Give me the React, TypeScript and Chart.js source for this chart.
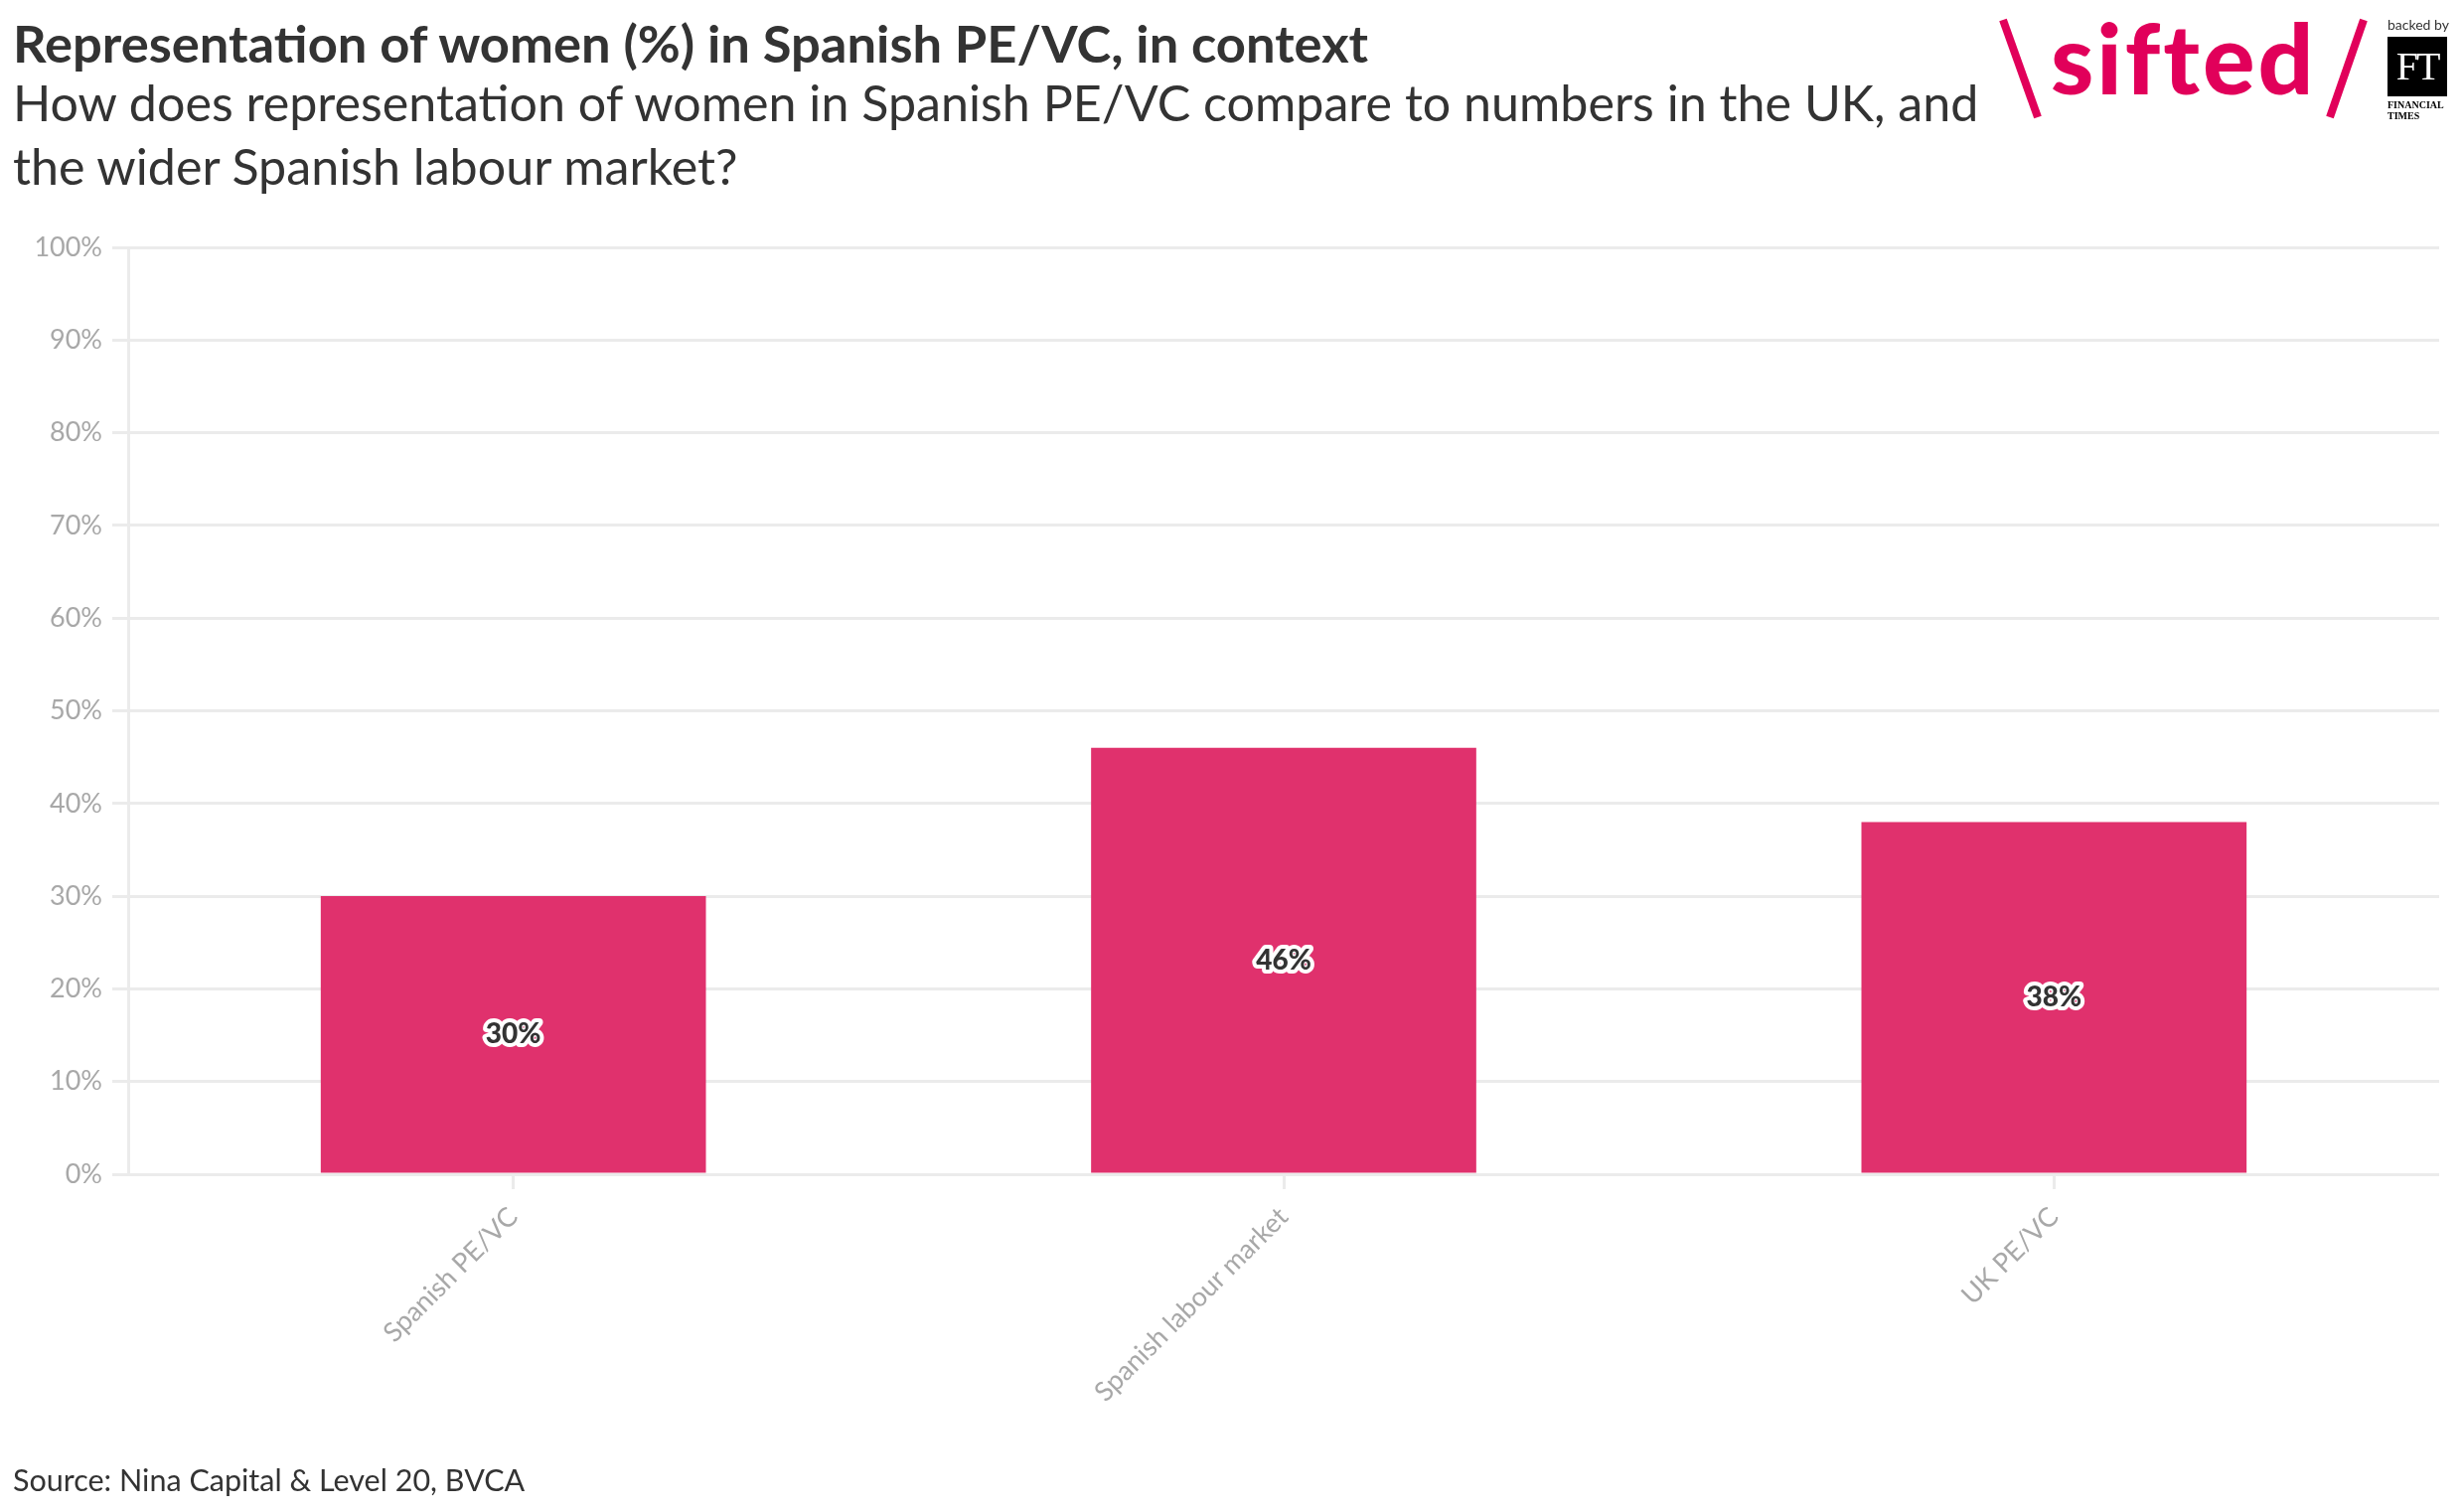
import React, { useEffect, useRef } from "react";
import { Chart, registerables } from "chart.js";

Chart.register(...registerables);

const categories = ["Spanish PE/VC", "Spanish labour market", "UK PE/VC"];
const womenShare = [30, 46, 38];
const yTickValues = [0, 10, 20, 30, 40, 50, 60, 70, 80, 90, 100];

const TITLE = "Representation of women (%) in Spanish PE/VC, in context";
const SUBTITLE_1 = "How does representation of women in Spanish PE/VC compare to numbers in the UK, and";
const SUBTITLE_2 = "the wider Spanish labour market?";
const SOURCE = "Source: Nina Capital & Level 20, BVCA";

const FONT = "Lato, 'Noto Sans', sans-serif";
const BAR_COLOR = "#e0316d";
const GRID = "#ebebeb";
const TICK_COLOR = "#a8a8a8";

const W = 2480;
const H = 1522;

const valueLabelPlugin = {
  id: "valueLabels",
  afterDatasetsDraw(chart: any) {
    const ctx = chart.ctx;
    const meta = chart.getDatasetMeta(0);
    ctx.save();
    ctx.font = `900 28px ${FONT}`;
    ctx.textAlign = "center";
    ctx.textBaseline = "middle";
    ctx.lineJoin = "round";
    meta.data.forEach((bar: any, i: number) => {
      const { x, y, base } = bar.getProps(["x", "y", "base"], true);
      const cy = (y + base) / 2;
      const txt = `${womenShare[i]}%`;
      ctx.lineWidth = 8;
      ctx.strokeStyle = "#ffffff";
      ctx.strokeText(txt, x, cy);
      ctx.fillStyle = "#333333";
      ctx.fillText(txt, x, cy);
    });
    ctx.restore();
  },
};

function BarChart() {
  const ref = useRef<HTMLCanvasElement | null>(null);
  useEffect(() => {
    if (!ref.current) return;
    const chart = new Chart(ref.current, {
      type: "bar",
      data: {
        labels: categories,
        datasets: [
          {
            data: womenShare,
            backgroundColor: BAR_COLOR,
            borderWidth: 0,
            barPercentage: 0.5,
            categoryPercentage: 1,
          },
        ],
      },
      options: {
        animation: false,
        responsive: false,
        devicePixelRatio: 1,
        layout: { padding: { top: 249, right: 25, left: 0, bottom: 0 } },
        plugins: { legend: { display: false }, tooltip: { enabled: false } },
        scales: {
          x: {
            grid: {
              display: true,
              drawOnChartArea: false,
              drawTicks: true,
              tickLength: 15,
              color: GRID,
              lineWidth: 3,
              offset: false,
            },
            border: { display: false },
            ticks: {
              minRotation: 45,
              maxRotation: 45,
              color: TICK_COLOR,
              font: { family: FONT, size: 27 },
              padding: 12,
            },
            afterFit(scale: any) {
              scale.height = H - 1182;
            },
          },
          y: {
            min: 0,
            max: 100,
            afterBuildTicks(scale: any) {
              scale.ticks = yTickValues.map((v) => ({ value: v }));
            },
            ticks: {
              color: TICK_COLOR,
              font: { family: FONT, size: 27 },
              padding: 10,
              callback: (v: any) => `${v}%`,
            },
            grid: {
              color: GRID,
              lineWidth: 3,
              tickLength: 16,
              drawTicks: true,
            },
            border: { display: true, color: GRID, width: 3 },
            afterFit(scale: any) {
              scale.width = 129;
            },
          },
        },
      },
      plugins: [valueLabelPlugin],
    });
    return () => chart.destroy();
  }, []);
  return (
    <canvas
      ref={ref}
      width={W}
      height={H}
      style={{ position: "absolute", left: 0, top: 0, width: W, height: H }}
    />
  );
}

function Logo() {
  const pink = "#e1005a";
  return (
    <div style={{ position: "absolute", left: 0, top: 0, width: W, height: 130 }}>
      <svg
        width={W}
        height={130}
        style={{ position: "absolute", left: 0, top: 0 }}
      >
        <line x1={2016} y1={20} x2={2051} y2={118} stroke={pink} strokeWidth={8} />
        <line x1={2379} y1={20} x2={2345} y2={118} stroke={pink} strokeWidth={8} />
      </svg>
      <div
        style={{
          position: "absolute",
          left: 2064,
          top: 8,
          fontFamily: FONT,
          fontWeight: 900,
          fontSize: 98,
          lineHeight: "98px",
          color: pink,
          letterSpacing: 3,
          whiteSpace: "nowrap",
        }}
      >
        sifted
      </div>
      <div
        style={{
          position: "absolute",
          left: 2403,
          top: 17,
          fontFamily: FONT,
          fontSize: 14,
          lineHeight: "16px",
          color: "#333",
          whiteSpace: "nowrap",
        }}
      >
        backed by
      </div>
      <div
        style={{
          position: "absolute",
          left: 2403,
          top: 37,
          width: 60,
          height: 60,
          background: "#000",
          color: "#fff",
          fontFamily: "'Liberation Serif', 'DejaVu Serif', serif",
          fontSize: 40,
          lineHeight: "60px",
          textAlign: "center",
          letterSpacing: -2,
        }}
      >
        FT
      </div>
      <div
        style={{
          position: "absolute",
          left: 2403,
          top: 100,
          fontFamily: "'Liberation Serif', serif",
          fontWeight: 700,
          fontSize: 10,
          lineHeight: "11px",
          color: "#000",
          whiteSpace: "nowrap",
        }}
      >
        FINANCIAL
        <br />
        TIMES
      </div>
    </div>
  );
}

export default function App() {
  return (
    <div
      style={{
        position: "absolute",
        left: 0,
        top: 0,
        width: W,
        height: H,
        background: "#fff",
        overflow: "hidden",
      }}
    >
      <BarChart />
      <div
        style={{
          position: "absolute",
          left: 13,
          top: 17,
          fontFamily: FONT,
          fontWeight: 700,
          fontSize: 52.5,
          lineHeight: "52px",
          color: "#333",
          whiteSpace: "nowrap",
        }}
      >
        {TITLE}
      </div>
      <div
        style={{
          position: "absolute",
          left: 13,
          top: 71,
          fontFamily: FONT,
          fontWeight: 400,
          fontSize: 50.2,
          lineHeight: "64px",
          color: "#333",
          whiteSpace: "nowrap",
        }}
      >
        {SUBTITLE_1}
        <br />
        {SUBTITLE_2}
      </div>
      <div
        style={{
          position: "absolute",
          left: 13,
          top: 1474,
          fontFamily: FONT,
          fontSize: 30.5,
          lineHeight: "31px",
          color: "#333",
          whiteSpace: "nowrap",
        }}
      >
        {SOURCE}
      </div>
      <Logo />
    </div>
  );
}
